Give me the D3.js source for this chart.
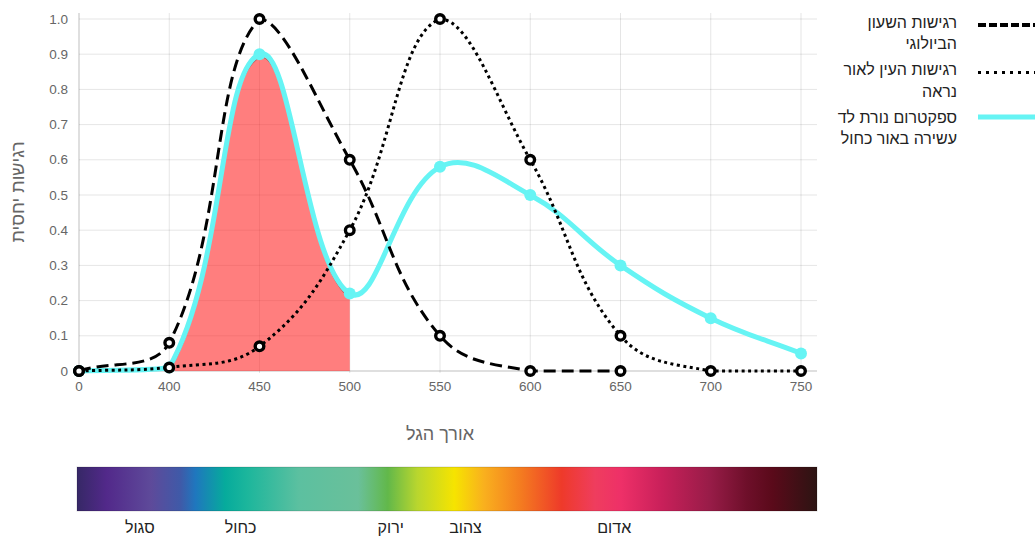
<!DOCTYPE html>
<html>
<head>
<meta charset="utf-8">
<script src="https://cdn.jsdelivr.net/npm/d3@7/dist/d3.min.js"></script>
<style>
  body { margin: 0; background: #fff; }
  svg { display: block; font-family: "Liberation Sans", Arial, sans-serif; }
</style>
</head>
<body>
<div class="chart"></div>
<script>
// wavelength categories (nm) on the x axis
const wavelengths = ['0', '400', '450', '500', '550', '600', '650', '700', '750'];
const clockSensitivity = [0, 0.08, 1.0, 0.6, 0.1, 0, 0];
const eyeSensitivity = [0, 0.01, 0.07, 0.4, 1.0, 0.6, 0.1, 0, 0];
const ledSpectrum = [0, 0.01, 0.9, 0.22, 0.58, 0.5, 0.3, 0.15, 0.05];
// blue-light share of the LED spectrum, shown up to 500 nm
const blueRegion = [0, 0, 0.89, 0.21, 0.57];
const blueRegionEnd = '500';
const yTicks = [0, 0.1, 0.2, 0.3, 0.4, 0.5, 0.6, 0.7, 0.8, 0.9, 1.0];

const legendLabels = [
  ['רגישות השעון', 'הביולוגי'],
  ['רגישות העין לאור', 'נראה'],
  ['ספקטרום נורת לד', 'עשירה באור כחול']
];
const colorNames = ['סגול', 'כחול', 'ירוק', 'צהוב', 'אדום'];
const colorNamePos = [0.085, 0.221, 0.424, 0.525, 0.726];
const spectrumStops = [
  [0, '#362866'], [0.04, '#52298a'], [0.1, '#5e4a9a'], [0.14, '#3f5aa8'],
  [0.16, '#1f77be'], [0.2, '#06ab9c'], [0.23, '#1cb69c'], [0.3, '#5cc0a0'],
  [0.38, '#6ac09a'], [0.42, '#62b84a'], [0.46, '#b9d62e'], [0.51, '#f6e400'],
  [0.55, '#f9b01e'], [0.6, '#f47b20'], [0.655, '#ee3a2a'], [0.7, '#ef3d5e'],
  [0.735, '#ee3068'], [0.79, '#c9205a'], [0.855, '#981c48'], [0.905, '#6e0f2a'],
  [0.94, '#5a0a1a'], [1, '#2c1412']
];

const W = 1035, H = 537;
const area = { left: 79, right: 817, top: 19, bottom: 371 };

const svg = d3.select('.chart').append('svg')
  .attr('width', W)
  .attr('height', H);
const defs = svg.append('defs');

const x = d3.scalePoint().domain(wavelengths).range([79, 801]);
const y = d3.scaleLinear().domain([0, 1]).range([area.bottom, area.top]);

// Chart.js-style bezier spline (tension 0.4, control points capped to chart area)
function splineCurve(context) {
  return {
    areaStart() {}, areaEnd() {},
    lineStart() { this.pts = []; },
    point(px, py) { this.pts.push([+px, +py]); },
    lineEnd() {
      const p = this.pts, t = 0.4, cps = [];
      const cap = (v, lo, hi) => Math.max(lo, Math.min(hi, v));
      p.forEach((cur, i) => {
        const prev = p[i - 1] || cur, next = p[i + 1] || cur;
        const d01 = Math.hypot(cur[0] - prev[0], cur[1] - prev[1]);
        const d12 = Math.hypot(next[0] - cur[0], next[1] - cur[1]);
        let s01 = d01 / (d01 + d12), s12 = d12 / (d01 + d12);
        if (isNaN(s01)) s01 = 0;
        if (isNaN(s12)) s12 = 0;
        const fa = t * s01, fb = t * s12;
        const dx = next[0] - prev[0], dy = next[1] - prev[1];
        cps.push({
          prev: [cap(cur[0] - fa * dx, area.left, area.right), cap(cur[1] - fa * dy, area.top, area.bottom)],
          next: [cap(cur[0] + fb * dx, area.left, area.right), cap(cur[1] + fb * dy, area.top, area.bottom)]
        });
      });
      context.moveTo(p[0][0], p[0][1]);
      for (let i = 1; i < p.length; i++) {
        context.bezierCurveTo(cps[i - 1].next[0], cps[i - 1].next[1], cps[i].prev[0], cps[i].prev[1], p[i][0], p[i][1]);
      }
    }
  };
}

// grid
const grid = svg.append('g');
grid.selectAll('line.h')
  .data(yTicks)
  .enter()
  .append('line')
  .attr('x1', area.left)
  .attr('x2', area.right)
  .attr('y1', d => y(d))
  .attr('y2', d => y(d))
  .attr('stroke', d => d === 0 ? 'rgba(0,0,0,0.25)' : 'rgba(0,0,0,0.1)');
grid.selectAll('line.v')
  .data(wavelengths)
  .enter()
  .append('line')
  .attr('x1', d => x(d))
  .attr('x2', d => x(d))
  .attr('y1', 13)
  .attr('y2', area.bottom + 2)
  .attr('stroke', (d, i) => i === 0 ? 'rgba(0,0,0,0.25)' : 'rgba(0,0,0,0.1)');

// tick labels
svg.append('g').selectAll('text')
  .data(yTicks)
  .enter()
  .append('text')
  .attr('x', 68)
  .attr('y', d => y(d))
  .attr('text-anchor', 'end')
  .attr('dominant-baseline', 'central')
  .attr('font-size', '13.5px')
  .attr('fill', '#666')
  .text(d => d === 0 ? '0' : d.toFixed(1));
svg.append('g').selectAll('text')
  .data(wavelengths)
  .enter()
  .append('text')
  .attr('x', d => x(d))
  .attr('y', 391)
  .attr('text-anchor', 'middle')
  .attr('font-size', '13.5px')
  .attr('fill', '#666')
  .text(d => d);

// axis titles
svg.append('text')
  .attr('transform', `translate(24, ${(13 + area.bottom) / 2}) rotate(-90)`)
  .attr('text-anchor', 'middle')
  .attr('font-size', '18px')
  .attr('fill', '#666')
  .text('רגישות יחסית');
svg.append('text')
  .attr('x', 440)
  .attr('y', 440)
  .attr('text-anchor', 'middle')
  .attr('font-size', '18px')
  .attr('fill', '#666')
  .text('אורך הגל');

const seriesLine = d3.line()
  .x((d, i) => x(wavelengths[i]))
  .y(d => y(d))
  .curve(splineCurve);

// blue-light region fill, clipped at 500 nm
defs.append('clipPath')
  .attr('id', 'blueClip')
  .append('rect')
  .attr('x', x(wavelengths[0]))
  .attr('y', 0)
  .attr('width', x(blueRegionEnd) - x(wavelengths[0]))
  .attr('height', y(0));
const lastX = x(wavelengths[blueRegion.length - 1]);
const region = svg.append('g').attr('clip-path', 'url(#blueClip)');
region.append('path')
  .attr('d', seriesLine(blueRegion) + `L${lastX},${y(0)}L${x(wavelengths[0])},${y(0)}Z`)
  .attr('fill', 'rgba(255,40,40,0.6)')
  .attr('stroke', 'none');
region.append('path')
  .attr('d', seriesLine(blueRegion))
  .attr('fill', 'none')
  .attr('stroke', 'rgba(0,0,0,0.3)')
  .attr('stroke-width', 1.5);

// LED spectrum
svg.append('path')
  .attr('d', seriesLine(ledSpectrum))
  .attr('fill', 'none')
  .attr('stroke', '#66f4f4')
  .attr('stroke-width', 5);
svg.append('g').selectAll('circle')
  .data(ledSpectrum)
  .enter()
  .append('circle')
  .attr('cx', (d, i) => x(wavelengths[i]))
  .attr('cy', d => y(d))
  .attr('r', 6)
  .attr('fill', '#66f4f4');

// eye sensitivity (dotted)
svg.append('path')
  .attr('d', seriesLine(eyeSensitivity))
  .attr('fill', 'none')
  .attr('stroke', '#000')
  .attr('stroke-width', 3)
  .attr('stroke-dasharray', '3,3.5');

// biological clock (dashed)
svg.append('path')
  .attr('d', seriesLine(clockSensitivity))
  .attr('fill', 'none')
  .attr('stroke', '#000')
  .attr('stroke-width', 3)
  .attr('stroke-dasharray', '12,6');

[eyeSensitivity, clockSensitivity].forEach(vals => {
  svg.append('g').selectAll('circle')
    .data(vals)
    .enter()
    .append('circle')
    .attr('cx', (d, i) => x(wavelengths[i]))
    .attr('cy', d => y(d))
    .attr('r', 4.3)
    .attr('fill', '#fff')
    .attr('stroke', '#000')
    .attr('stroke-width', 3.4);
});

// legend
const legendStyles = [
  { stroke: '#000', width: 4, dash: '8,3' },
  { stroke: '#000', width: 3, dash: '3,5' },
  { stroke: '#66f4f4', width: 5, dash: null }
];
const legend = svg.append('g');
legendLabels.forEach((lines, i) => {
  const top = 22 + i * 47.5;
  const st = legendStyles[i];
  legend.append('line')
    .attr('x1', 978)
    .attr('x2', 1035)
    .attr('y1', top + (i === 2 ? 0 : 3))
    .attr('y2', top + (i === 2 ? 0 : 3))
    .attr('stroke', st.stroke)
    .attr('stroke-width', st.width)
    .attr('stroke-dasharray', st.dash);
  lines.forEach((t, j) => {
    legend.append('text')
      .attr('x', 957)
      .attr('y', top + j * 21.5)
      .attr('dominant-baseline', 'central')
      .attr('text-anchor', 'end')
      .attr('font-size', '16px')
      .attr('fill', '#222')
      .text(t);
  });
});

// spectrum bar
const grad = defs.append('linearGradient')
  .attr('id', 'spectrum')
  .attr('x1', '0%').attr('x2', '100%');
grad.selectAll('stop')
  .data(spectrumStops)
  .enter()
  .append('stop')
  .attr('offset', d => d[0])
  .attr('stop-color', d => d[1]);
const barX = d3.scaleLinear().domain([0, 1]).range([77, 817]);
svg.append('rect')
  .attr('x', barX(0))
  .attr('y', 467)
  .attr('width', barX(1) - barX(0))
  .attr('height', 44)
  .attr('fill', 'url(#spectrum)')
  .attr('stroke', 'rgba(0,0,0,0.15)');
svg.append('g').selectAll('text')
  .data(colorNames)
  .enter()
  .append('text')
  .attr('x', (d, i) => barX(colorNamePos[i]))
  .attr('y', 533)
  .attr('text-anchor', 'middle')
  .attr('font-size', '16px')
  .attr('fill', '#222')
  .text(d => d);
</script>
</body>
</html>
